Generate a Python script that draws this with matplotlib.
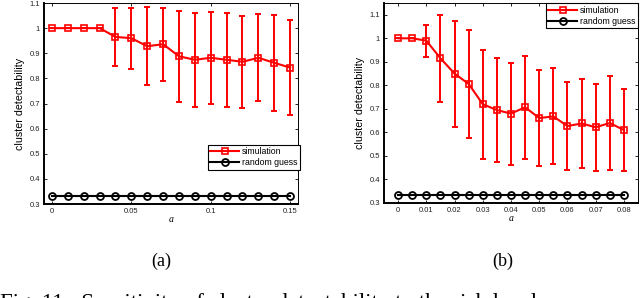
import matplotlib
matplotlib.use("Agg")
import matplotlib.pyplot as plt
import numpy as np

# ---- data ----
a_x = [0, 0.01, 0.02, 0.03, 0.04, 0.05, 0.06, 0.07, 0.08, 0.09, 0.10, 0.11, 0.12, 0.13, 0.14, 0.15]
a_sim = [1.0, 1.0, 1.0, 1.0, 0.965, 0.96, 0.928, 0.936, 0.888, 0.874, 0.882, 0.874, 0.866, 0.882, 0.862, 0.843]
a_err = [0, 0, 0, 0, 0.117, 0.122, 0.155, 0.146, 0.180, 0.187, 0.182, 0.186, 0.183, 0.173, 0.192, 0.188]
a_rand = [1 / 3] * len(a_x)

b_x = [0, 0.005, 0.01, 0.015, 0.02, 0.025, 0.03, 0.035, 0.04, 0.045, 0.05, 0.055, 0.06, 0.065, 0.07, 0.075, 0.08]
b_sim = [1.0, 1.0, 0.99, 0.915, 0.85, 0.806, 0.72, 0.695, 0.68, 0.707, 0.661, 0.668, 0.627, 0.638, 0.622, 0.64, 0.61]
b_err = [0, 0, 0.068, 0.185, 0.225, 0.231, 0.232, 0.22, 0.217, 0.219, 0.203, 0.204, 0.187, 0.188, 0.184, 0.2, 0.176]
b_rand = [1 / 3] * len(b_x)

a_xticks = [0, 0.05, 0.1, 0.15]
a_xlabels = ["0", "0.05", "0.1", "0.15"]
b_xticks = [0, 0.01, 0.02, 0.03, 0.04, 0.05, 0.06, 0.07, 0.08]
b_xlabels = ["0", "0.01", "0.02", "0.03", "0.04", "0.05", "0.06", "0.07", "0.08"]
yticks = [0.3, 0.4, 0.5, 0.6, 0.7, 0.8, 0.9, 1.0, 1.1]
ylabels = ["0.3", "0.4", "0.5", "0.6", "0.7", "0.8", "0.9", "1", "1.1"]

plt.rcParams['font.family'] = ['Liberation Sans', 'DejaVu Sans']

fig = plt.figure(figsize=(6.4, 2.98), dpi=100)
ax1 = fig.add_axes([0.0688, 0.3154, 0.3969, 0.6745])
ax2 = fig.add_axes([0.6, 0.3188, 0.3969, 0.6711])


def draw(ax, x, sim, err, rnd, xticks, xlabels, xlim, ylim):
    ax.errorbar(x, sim, yerr=err, fmt='none', ecolor='red', elinewidth=1.4,
                capsize=2, capthick=1.4, zorder=2)
    ax.plot(x, sim, 's-', color='red', lw=1.5, ms=4.5, mew=1.2, mfc='none',
            label='simulation', zorder=3)
    ax.plot(x, rnd, 'o-', color='black', lw=1.5, ms=5, mew=1.3, mfc='none',
            label='random guess', zorder=3)
    ax.set_xlim(xlim)
    ax.set_ylim(ylim)
    ax.set_xticks(xticks)
    ax.set_xticklabels(xlabels)
    ax.set_yticks(yticks)
    ax.set_yticklabels(ylabels)
    ax.tick_params(direction='in', top=True, right=True, length=2.5, width=0.6,
                   labelsize=5.5, labelcolor='#222222', pad=3)
    for s in ['left', 'bottom']:
        ax.spines[s].set_linewidth(1.4)
    for s in ['top', 'right']:
        ax.spines[s].set_linewidth(0.7)
    ax.set_xlabel('a', fontsize=7, style='italic', family='Liberation Serif', labelpad=0)
    ax.set_ylabel('cluster detectability', fontsize=7.7, labelpad=3)


draw(ax1, a_x, a_sim, a_err, a_rand, a_xticks, a_xlabels, (-0.005, 0.155), (0.3, 1.1))
draw(ax2, b_x, b_sim, b_err, b_rand, b_xticks, b_xlabels, (-0.005, 0.085), (0.3, 1.15))

leg_kw = dict(fontsize=6.3, frameon=True, fancybox=False, edgecolor='black', framealpha=1,
              handlelength=3.3, handletextpad=0.3, borderpad=0.3, labelspacing=0.25,
              borderaxespad=0)
l1 = ax1.legend(loc='lower right', bbox_to_anchor=(1.008, 0.169), **leg_kw)
l2 = ax2.legend(loc='upper right', bbox_to_anchor=(1.0, 1.0), **leg_kw)
for l in (l1, l2):
    l.get_frame().set_linewidth(0.8)

fig.text(161 / 640, 1 - 261 / 298, '(a)', ha='center', va='center', fontsize=13,
         family='Liberation Serif')
fig.text(503 / 640, 1 - 261 / 298, '(b)', ha='center', va='center', fontsize=13,
         family='Liberation Serif')
fig.text(0.0, -11 / 298, 'Fig. 11:  Sensitivity of cluster detectability to the risk level',
         ha='left', va='baseline', fontsize=16.5, family='Liberation Serif')

fig.savefig('out.png', dpi=100)
